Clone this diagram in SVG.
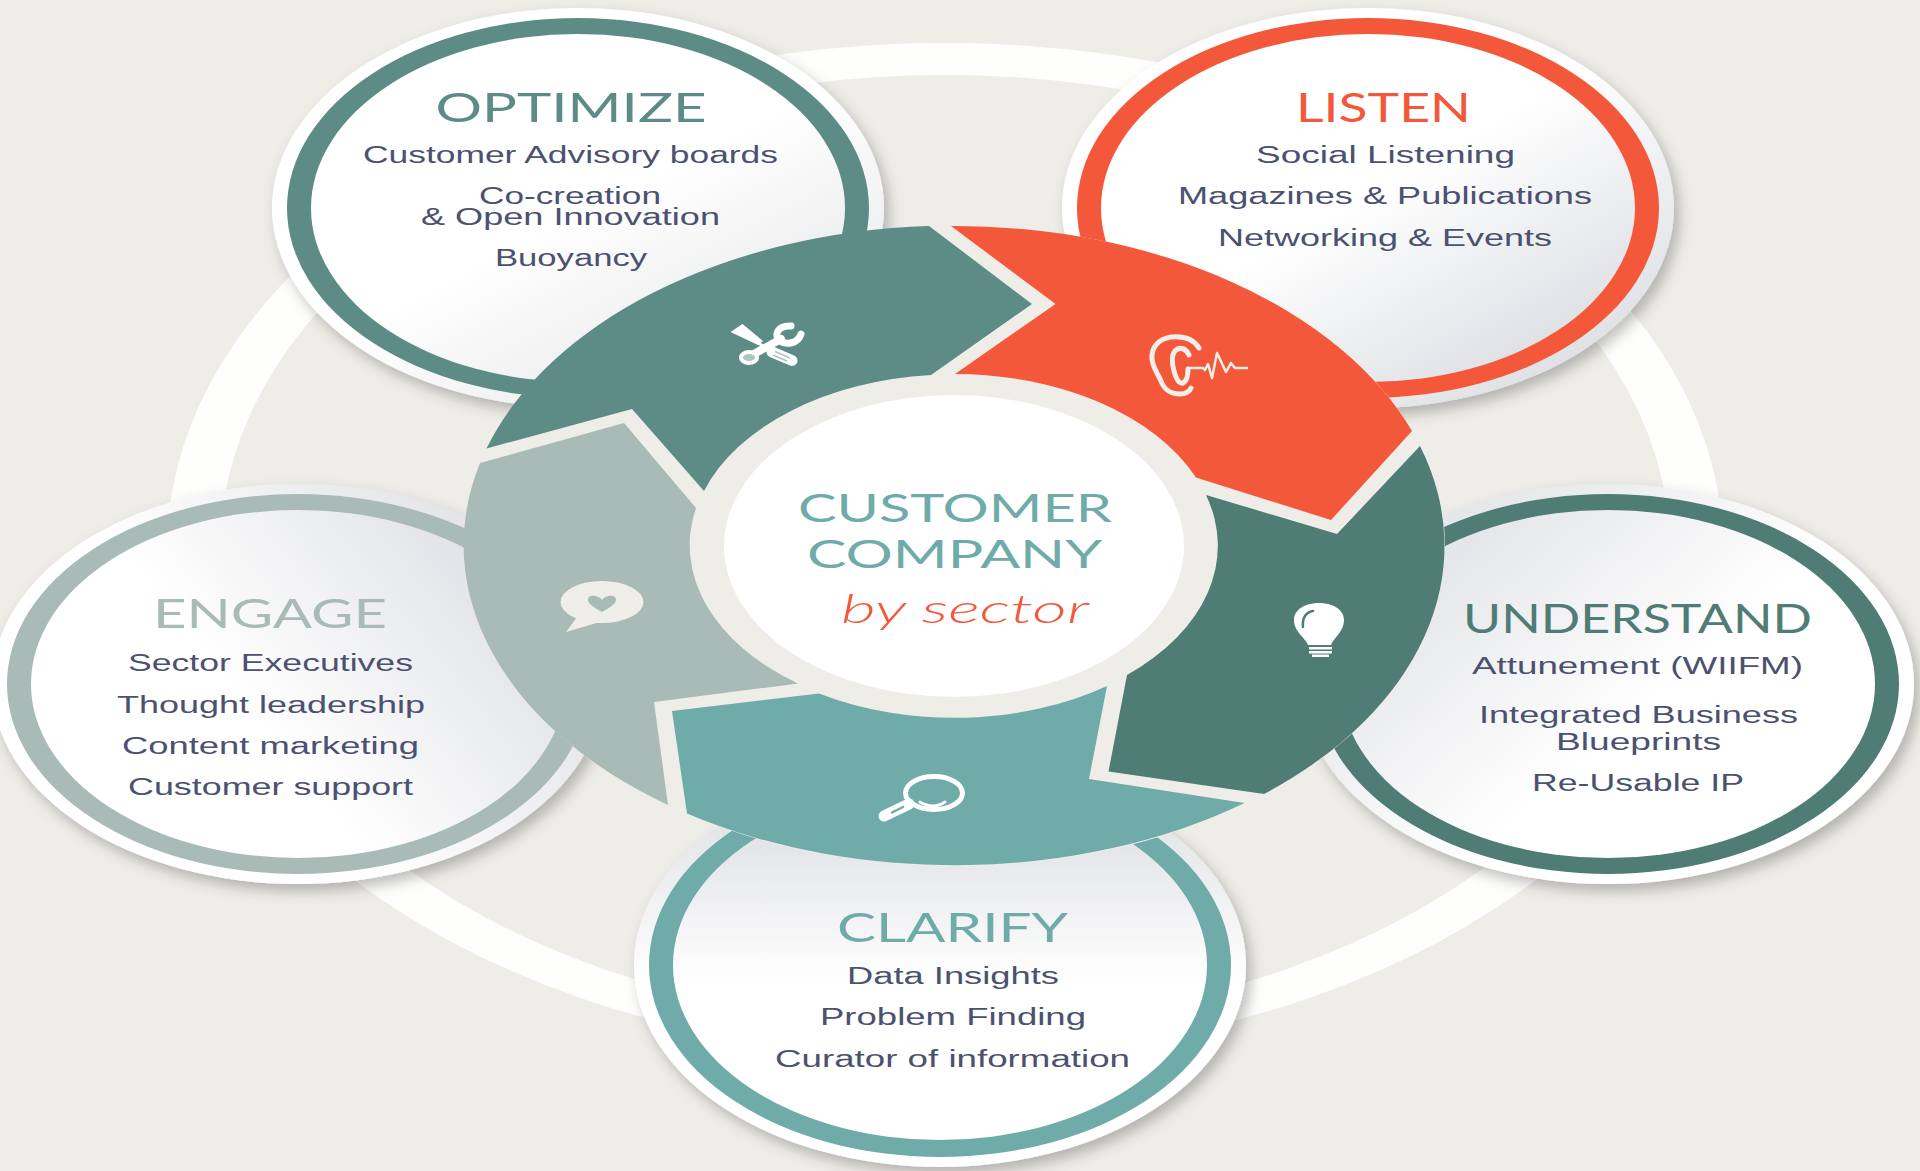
<svg xmlns="http://www.w3.org/2000/svg" width="1920" height="1171" viewBox="0 0 1920 1171">
<style>
.b{font-family:"Liberation Sans",Arial,sans-serif;font-size:23.5px;fill:#4c5170}
.h{font-family:Lato,"Liberation Sans",sans-serif;font-size:40px;font-weight:400}
.s{font-family:Lato,"Liberation Sans",sans-serif;font-size:39px;font-weight:400;fill:#6fabA8}
.ico{fill:none;stroke:#efeee9;stroke-linecap:round;stroke-linejoin:round}
.w{fill:none;stroke:#fff;stroke-linecap:round;stroke-linejoin:round}
</style>
<defs>
<filter id="sh" x="-10%" y="-10%" width="125%" height="130%"><feDropShadow dx="5" dy="7" stdDeviation="7" flood-color="#000" flood-opacity="0.25"/></filter>
<linearGradient id="gO" x1="0.45" y1="0.55" x2="0.8" y2="1"><stop offset="0" stop-color="#fff"/><stop offset="1" stop-color="#e6e7e9"/></linearGradient>
<linearGradient id="gL" x1="0.45" y1="0.5" x2="0.85" y2="0.95"><stop offset="0" stop-color="#fff"/><stop offset="1" stop-color="#dcdee2"/></linearGradient>
<linearGradient id="gU" x1="0.55" y1="0.6" x2="0.08" y2="0.25"><stop offset="0" stop-color="#fff"/><stop offset="1" stop-color="#e4e5e8"/></linearGradient>
<linearGradient id="gE" x1="0.42" y1="0.6" x2="0.9" y2="0.35"><stop offset="0" stop-color="#fff"/><stop offset="1" stop-color="#e4e5e8"/></linearGradient>
<linearGradient id="gC" x1="0.5" y1="0.55" x2="0.5" y2="0.15"><stop offset="0" stop-color="#fff"/><stop offset="1" stop-color="#e4e5e8"/></linearGradient>
</defs>
<rect width="1920" height="1171" fill="#eeede8"/>
<path id="orbit" fill="#fefefd" fill-rule="evenodd" d="M167 550a778 507 0 1 0 1556 0a778 507 0 1 0 -1556 0ZM220 550a725 475 0 1 0 1450 0a725 475 0 1 0 -1450 0Z"/>

<g id="optimize">
<ellipse cx="578" cy="208" rx="306" ry="200" fill="url(#gO)" filter="url(#sh)"/>
<ellipse cx="578" cy="208" rx="291" ry="190" fill="#5c8c85"/>
<ellipse cx="578" cy="208" rx="267" ry="174" fill="url(#gO)"/>
</g>
<g id="listen">
<ellipse cx="1368" cy="208" rx="306" ry="200" fill="url(#gL)" filter="url(#sh)"/>
<ellipse cx="1368" cy="208" rx="291" ry="190" fill="#f4583b"/>
<ellipse cx="1368" cy="208" rx="267" ry="174" fill="url(#gL)"/>
</g>
<g id="understand">
<ellipse cx="1608" cy="684" rx="306" ry="200" fill="url(#gU)" filter="url(#sh)"/>
<ellipse cx="1608" cy="684" rx="291" ry="190" fill="#4f7c75"/>
<ellipse cx="1608" cy="684" rx="267" ry="174" fill="url(#gU)"/>
</g>
<g id="engage">
<ellipse cx="298" cy="684" rx="306" ry="200" fill="url(#gE)" filter="url(#sh)"/>
<ellipse cx="298" cy="684" rx="291" ry="190" fill="#a8bbb7"/>
<ellipse cx="298" cy="684" rx="267" ry="174" fill="url(#gE)"/>
</g>
<g id="clarify">
<ellipse cx="940" cy="965" rx="306" ry="202" fill="url(#gC)" filter="url(#sh)"/>
<ellipse cx="940" cy="965" rx="291" ry="192" fill="#6faba8"/>
<ellipse cx="940" cy="965" rx="267" ry="175" fill="url(#gC)"/>
</g>

<g id="wheel">
<ellipse cx="955" cy="546" rx="490" ry="320" fill="#eeede8"/>
<path id="seg-optimize" fill="#5c8c85" d="M486.500 448.500A490 320 0 0 1 929 226L1032 304L931 375A263 171 0 0 0 704 491L632 409Z"/>
<path id="seg-listen" fill="#f4583b" d="M951 226A490 320 0 0 1 1412 431L1331 520L1196 477.500A263 171 0 0 0 955 374L1055.500 304Z"/>
<path id="seg-understand" fill="#4f7c75" d="M1420 446A490 320 0 0 1 1264 794L1108.500 771.500L1127 675A263 171 0 0 0 1206 495L1337 534Z"/>
<path id="seg-clarify" fill="#6faba8" d="M1244.500 803A490 320 0 0 1 687 813.500L672 711L819 693.500A263 171 0 0 0 1107 686L1089 779Z"/>
<path id="seg-engage" fill="#a8bbb7" d="M668 805A490 320 0 0 1 480 463L624 423L696 508A263 171 0 0 0 798 683.500L654 702Z"/>
<ellipse cx="954" cy="546" rx="230" ry="151" fill="#fff"/>
</g>

<g id="icon-tools">
<path fill="#fff" d="M730.500 332L742.500 324L763 341L758 345Z"/>
<path class="w" stroke-width="3" d="M758 343L773 352"/>
<path class="w" stroke-width="8" d="M752 355L781 339"/>
<path class="w" stroke-width="7" d="M791 326C778 325 773 335 780 341C786 345 798 344 801 334"/>
<ellipse cx="749" cy="357.500" rx="8" ry="5.500" fill="#b0c4bf" stroke="#fff" stroke-width="4"/>
<path class="w" stroke-width="11" d="M772 352L792 360.500"/>
<path fill="none" stroke="#b0c4bf" stroke-width="1.500" d="M775 351.500L790 358M773 355L787 361"/>
</g>
<g id="icon-ear">
<path class="ico" stroke-width="5" d="M1199 348C1193 338 1181 336 1171 337C1158 339 1151 348 1152 359C1153 368 1158 374 1161 381C1164 390 1172 394 1180 394C1186 394 1190 391 1191 388"/>
<path class="ico" stroke-width="5" d="M1189 355C1186 348 1180 347 1176 350C1171 354 1172 364 1174 371C1176 379 1179 384 1183 383C1187 381 1188 375 1188 369"/>
<path class="ico" stroke-width="2.500" d="M1188 368L1203 368L1205 370L1208 364L1212 378L1217 353L1226 372L1231 363L1235 368L1247 368"/>
</g>
<g id="icon-bulb">
<path fill="#fff" d="M1308 645C1305 637 1294 632 1294 620C1294 609 1306 603 1319 603C1332 603 1344 609 1344 620C1344 632 1334 637 1331 645Z"/>
<path fill="none" stroke="#4f7c75" stroke-width="2.500" stroke-linecap="round" d="M1303 627C1302 618 1306 612 1313 611"/>
<rect x="1309" y="647" width="23" height="2.500" fill="#fff"/><rect x="1309" y="651" width="23" height="2.500" fill="#fff"/><rect x="1312" y="654.500" width="17" height="2.500" fill="#fff"/>
</g>
<g id="icon-magnifier">
<ellipse cx="934" cy="793" rx="28.500" ry="16.500" fill="none" stroke="#fff" stroke-width="5"/>
<path fill="none" stroke="#fff" stroke-width="3" stroke-linecap="round" d="M920 802Q933 810 945 802"/>
<path fill="none" stroke="#fff" stroke-width="11" stroke-linecap="round" d="M909 804L884 816"/>
<path fill="none" stroke="#6faba8" stroke-width="2.500" stroke-linecap="round" d="M903 807L892 812.500"/>
</g>
<g id="icon-heart">
<ellipse cx="602" cy="602" rx="41.500" ry="21" fill="#efeee9"/>
<path fill="#efeee9" d="M577 617L566 632L600 622Z"/>
<path fill="#a8bbb7" d="M602 612C595 608 588 604 588 600C588 596 592 595.500 595 596C598 596.500 601 598 602 600C603 598 606 596.500 609 596C612 595.500 616 596 616 600C616 604 609 608 602 612Z"/>
</g>

<g id="center-label">
<text class="s" x="798" y="522" textLength="314" lengthAdjust="spacingAndGlyphs">CUSTOMER</text>
<text class="s" x="807" y="568" textLength="295" lengthAdjust="spacingAndGlyphs">COMPANY</text>
<text x="841" y="623" textLength="248" lengthAdjust="spacingAndGlyphs" style="font-family:Lato,'Liberation Sans',sans-serif;font-size:40px;font-weight:300;font-style:italic;fill:#f4583b">by sector</text>
</g>
<g id="optimize-text">
<text class="h" x="435.500" y="122" textLength="271" lengthAdjust="spacingAndGlyphs" fill="#5c8c85">OPTIMIZE</text>
<text class="b" x="363" y="163" textLength="415" lengthAdjust="spacingAndGlyphs">Customer Advisory boards</text>
<text class="b" x="479" y="204" textLength="182" lengthAdjust="spacingAndGlyphs">Co-creation</text>
<text class="b" x="421" y="225" textLength="299" lengthAdjust="spacingAndGlyphs">&amp; Open Innovation</text>
<text class="b" x="495" y="266" textLength="152" lengthAdjust="spacingAndGlyphs">Buoyancy</text>
</g>
<g id="listen-text">
<text class="h" x="1296" y="122" textLength="175" lengthAdjust="spacingAndGlyphs" fill="#f4583b">LISTEN</text>
<text class="b" x="1256" y="163" textLength="259" lengthAdjust="spacingAndGlyphs">Social Listening</text>
<text class="b" x="1178" y="204" textLength="414" lengthAdjust="spacingAndGlyphs">Magazines &amp; Publications</text>
<text class="b" x="1218" y="246" textLength="334" lengthAdjust="spacingAndGlyphs">Networking &amp; Events</text>
</g>
<g id="understand-text">
<text class="h" x="1463" y="633" textLength="349" lengthAdjust="spacingAndGlyphs" fill="#4f7c75">UNDERSTAND</text>
<text class="b" x="1472" y="674" textLength="331" lengthAdjust="spacingAndGlyphs">Attunement (WIIFM)</text>
<text class="b" x="1479" y="723" textLength="319" lengthAdjust="spacingAndGlyphs">Integrated Business</text>
<text class="b" x="1556" y="750" textLength="165" lengthAdjust="spacingAndGlyphs">Blueprints</text>
<text class="b" x="1532" y="791" textLength="212" lengthAdjust="spacingAndGlyphs">Re-Usable IP</text>
</g>
<g id="engage-text">
<text class="h" x="153" y="628" textLength="234" lengthAdjust="spacingAndGlyphs" fill="#a8bbb7">ENGAGE</text>
<text class="b" x="128" y="671" textLength="285" lengthAdjust="spacingAndGlyphs">Sector Executives</text>
<text class="b" x="117" y="713" textLength="308" lengthAdjust="spacingAndGlyphs">Thought leadership</text>
<text class="b" x="122" y="754" textLength="297" lengthAdjust="spacingAndGlyphs">Content marketing</text>
<text class="b" x="128" y="795" textLength="285" lengthAdjust="spacingAndGlyphs">Customer support</text>
</g>
<g id="clarify-text">
<text class="h" x="837" y="942" textLength="231" lengthAdjust="spacingAndGlyphs" fill="#6faba8">CLARIFY</text>
<text class="b" x="847" y="984" textLength="212" lengthAdjust="spacingAndGlyphs">Data Insights</text>
<text class="b" x="820" y="1025" textLength="266" lengthAdjust="spacingAndGlyphs">Problem Finding</text>
<text class="b" x="775" y="1067" textLength="355" lengthAdjust="spacingAndGlyphs">Curator of information</text>
</g>
</svg>
